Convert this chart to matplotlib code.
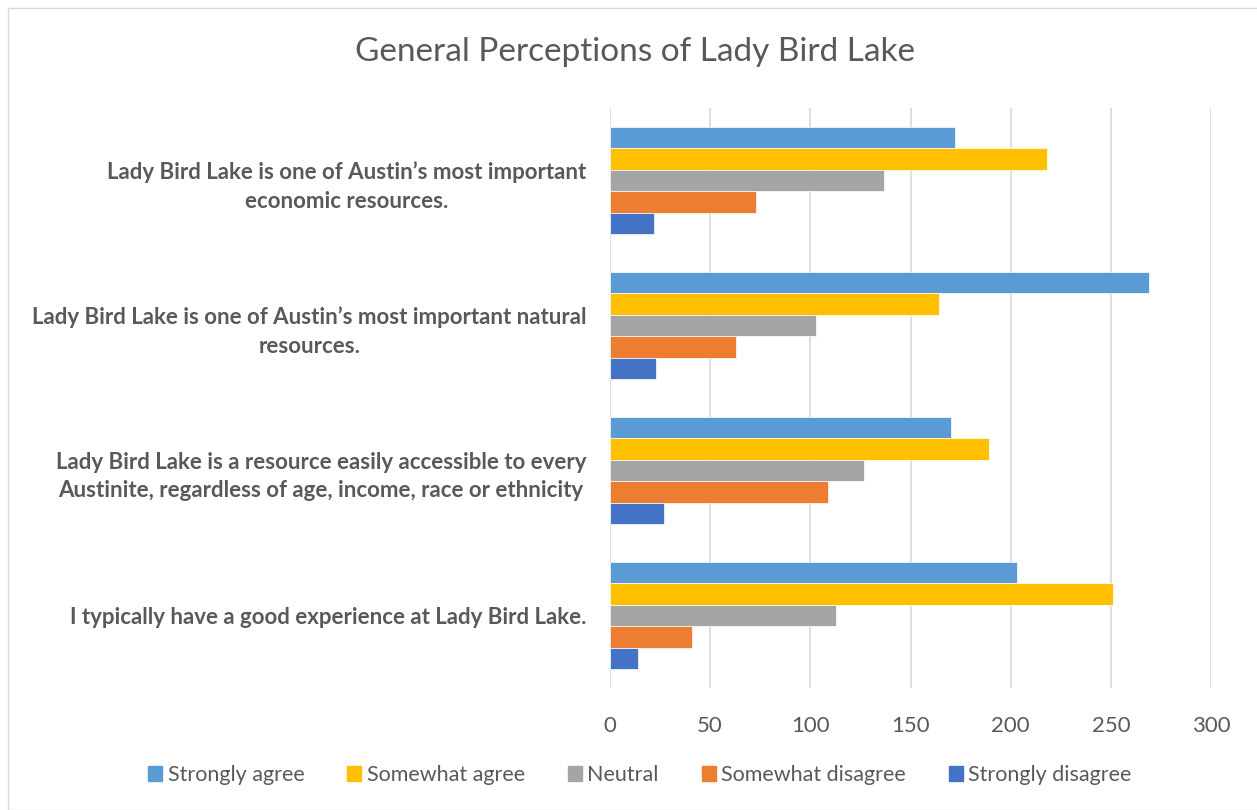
import matplotlib
matplotlib.use("Agg")
import matplotlib.pyplot as plt
import numpy as np
from matplotlib.patches import Rectangle

categories = [
    "I typically have a good experience at Lady Bird Lake.",
    "Lady Bird Lake is a resource easily accessible to every\nAustinite, regardless of age, income, race or ethnicity",
    "Lady Bird Lake is one of Austin\u2019s most important natural\nresources.",
    "Lady Bird Lake is one of Austin\u2019s most important\neconomic resources.",
]
series_names = ["Strongly agree", "Somewhat agree", "Neutral", "Somewhat disagree", "Strongly disagree"]
strongly_agree = [203, 170, 269, 172]
somewhat_agree = [251, 189, 164, 218]
neutral = [113, 127, 103, 137]
somewhat_disagree = [41, 109, 63, 73]
strongly_disagree = [14, 27, 23, 22]
values = [strongly_agree, somewhat_agree, neutral, somewhat_disagree, strongly_disagree]
colors = ["#5B9BD5", "#FFC000", "#A5A5A5", "#ED7D31", "#4472C4"]
xticks = [0, 50, 100, 150, 200, 250, 300]

plt.rcParams['font.family'] = ['Lato', 'DejaVu Sans']

fig = plt.figure(figsize=(12.57, 8.10), dpi=100)
ax = fig.add_axes([610/1257, 1-688/810, 601/1257, 580/810])

n = len(series_names)
bh = 0.148
y = np.arange(len(categories))
for i, (name, vals, c) in enumerate(zip(series_names, values, colors)):
    offset = (n - 1) / 2 * bh - i * bh
    ax.barh(y + offset, vals, height=bh, color=c, label=name, edgecolor='white', linewidth=0.5, zorder=3)

ax.set_xlim(0, 300)
ax.set_ylim(-0.5, len(categories) - 0.5)
ax.set_xticks(xticks)
ax.set_yticks(y)
ax.set_yticklabels(categories, fontsize=16, fontweight='bold', color='#595959',
                   multialignment='center', linespacing=1.45)
ax.tick_params(axis='y', length=0, pad=17)
ax.tick_params(axis='x', length=0, pad=20, labelsize=16, labelcolor='#595959')
ax.grid(axis='x', color='#D9D9D9', linewidth=1.2, zorder=0)
for s in ax.spines.values():
    s.set_visible(False)

fig.text(635/1257, 1-52/810, "General Perceptions of Lady Bird Lake", ha='center', va='center',
         fontsize=24, color='#595959')

handles = [Rectangle((0, 0), 1, 1, color=c) for c in colors]
fig.legend(handles, series_names, loc='center', bbox_to_anchor=(640/1257, 1-775/810), ncol=5,
           frameon=False, fontsize=15.5, labelcolor='#595959', handlelength=0.65, handleheight=0.65,
           handletextpad=0.25, columnspacing=2.0)

fig.add_artist(Rectangle((8/1257, 0), 1, 1-8/810, transform=fig.transFigure, fill=False,
                         edgecolor='#D9D9D9', linewidth=1))

fig.savefig("out.png", dpi=100, facecolor='white')
